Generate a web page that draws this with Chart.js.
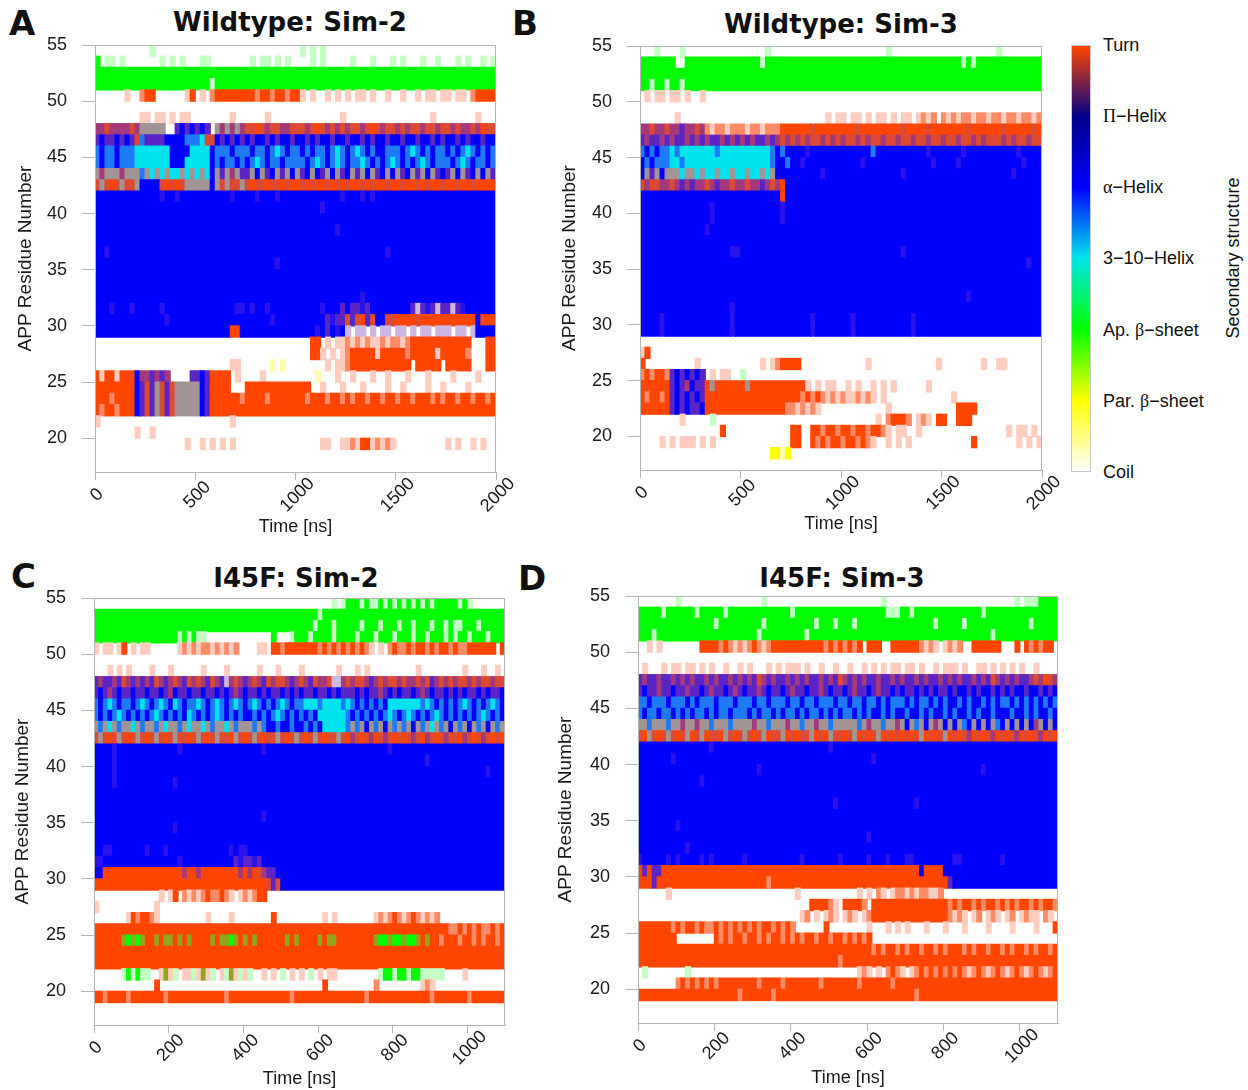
<!DOCTYPE html>
<html>
<head>
<meta charset="utf-8">
<script src="https://cdn.jsdelivr.net/npm/chart.js@4.4.1/dist/chart.umd.min.js"></script>
<style>
  body { margin: 0; background: #fff; width: 1248px; height: 1090px; position: relative; overflow: hidden;
         font-family: "Liberation Sans", Arial, sans-serif; color: #111; }
  canvas { position: absolute; }
  .letter { position: absolute; font: bold 34px/34px "DejaVu Sans", sans-serif; }
  .ptitle { position: absolute; width: 400px; text-align: center; font: bold 26px/30px "DejaVu Sans", sans-serif; }
  .cb { position: absolute; left: 1071px; top: 45px; width: 20px; height: 427px; box-sizing: border-box;
        border: 1px solid #c8c8c8;
        background: linear-gradient(to bottom, #ff4500 0%, #00008b 16.7%, #0000ff 33.3%, #00e6ea 50%, #00ff00 66.7%, #ffff00 83.3%, #ffffff 100%); }
  .cbl { position: absolute; left: 1103px; font-size: 18px; line-height: 22px; white-space: nowrap; }
  .gk { font-family: "Liberation Serif", "DejaVu Serif", serif; }
  .cbt { position: absolute; left: 1133px; top: 247px; width: 200px; text-align: center; font-size: 18px;
         line-height: 22px; transform: rotate(-90deg); }
</style>
</head>
<body>
<div class="letter" style="left:9px;top:6px">A</div>
<div class="letter" style="left:512px;top:6px">B</div>
<div class="letter" style="left:11px;top:559px">C</div>
<div class="letter" style="left:518px;top:561px">D</div>

<div class="ptitle" style="left:90px;top:7px">Wildtype: Sim-2</div>
<div class="ptitle" style="left:641px;top:9px">Wildtype: Sim-3</div>
<div class="ptitle" style="left:96px;top:563px">I45F: Sim-2</div>
<div class="ptitle" style="left:642px;top:563px">I45F: Sim-3</div>

<canvas id="chartA" width="520" height="545" style="left:0;top:0"></canvas>
<canvas id="chartB" width="520" height="545" style="left:545px;top:0"></canvas>
<canvas id="chartC" width="530" height="540" style="left:0;top:550px"></canvas>
<canvas id="chartD" width="530" height="540" style="left:545px;top:550px"></canvas>

<div class="cb"></div>
<div class="cbl" style="top:34px">Turn</div>
<div class="cbl" style="top:105px"><span class="gk">Π</span>−Helix</div>
<div class="cbl" style="top:176px"><span class="gk">α</span>−Helix</div>
<div class="cbl" style="top:247px">3−10−Helix</div>
<div class="cbl" style="top:319px">Ap. <span class="gk">β</span>−sheet</div>
<div class="cbl" style="top:390px">Par. <span class="gk">β</span>−sheet</div>
<div class="cbl" style="top:461px">Coil</div>
<div class="cbt">Secondary structure</div>

<script>
// ---- axes ----
const yTicks = [20, 25, 30, 35, 40, 45, 50, 55];
const xTicksLong = [0, 500, 1000, 1500, 2000];
const xTicksShort = [0, 200, 400, 600, 800, 1000];
const residueMin = 17;
const residueTop = 54;   // first row of every panel = residue band 54-55

// ---- structure code per time bin ----
// T turn, H alpha, G 3-10, E ap. sheet, B par. sheet, '.' coil
// lower case / extra letters = bins where several states flicker
const codeColors = {
  T: "#ff4500", t: "#ffcdbf", m: "#ff8a66", r: "#dc4a34", p: "#a3397a",
  v: "#5b25c6", h: "#2a12ea", H: "#0000ff", c: "#1f7af6", G: "#00e2ec",
  g: "#a29494", E: "#00ff00", e: "#c4ffc4", o: "#8fa51e", B: "#ffff00",
  y: "#ffffb4", q: "#cdb6e2"
};

const H80 = "HHHHHHHHHH HHHHHHHHHH HHHHHHHHHH HHHHHHHHHH HHHHHHHHHH HHHHHHHHHH HHHHHHHHHH HHHHHHHHHH";
const E80 = "EEEEEEEEEE EEEEEEEEEE EEEEEEEEEE EEEEEEEEEE EEEEEEEEEE EEEEEEEEEE EEEEEEEEEE EEEEEEEEEE";
const C80 = ".......... .......... .......... .......... .......... .......... .......... ..........";
const H88 = "HHHHHHHHHHH HHHHHHHHHHH HHHHHHHHHHH HHHHHHHHHHH HHHHHHHHHHH HHHHHHHHHHH HHHHHHHHHHH HHHHHHHHHHH";
const T88 = "TTTTTTTTTTT TTTTTTTTTTT TTTTTTTTTTT TTTTTTTTTTT TTTTTTTTTTT TTTTTTTTTTT TTTTTTTTTTT TTTTTTTTTTT";
const C88 = "........... ........... ........... ........... ........... ........... ........... ...........";

// Wildtype Sim-2, 0-2000 ns, 25 ns bins
const wtSim2 = [
  ".......... .e........ .......... .......... .e.e.e.... .......... .......... ..........",
  "E.ee.e.... ...e.e.e.. .ee....... .e.ee.e.e. ...e.e.... .e...e...e .e...e..e. ..e.e..e.e",
  E80,
  "EEEEEEEEEE EEEEEEEEEE EEEeEEEEEE EEEEEEEEEE EEEEEEEEEE EEEEEEEEEE EEEEEEEEEE EEEEEEEEEE",
  "......t..m TT......tT .t.mTTTTTT TTmTTmTTmT Tt.t..t.t. t.tt.t..t. .t..t.tt.t t.tt.mTTTT",
  C80,
  ".........t t.tt.t.tt. .......t.. ....t..... .........t .......... .......t.. ......t...",
  "pprpppprpg gggg..vHvH vHv.gpgpgp rrTrprrppr rrprTrprpr prrprTrprr prprrprrpr rprpprpTrr",
  "vHvvHvHvrc vvvvHHHHcc cGrrHvHvHv HvHHvHvHHv HHvHvHHvHH vHHvHvHHvH HvHHvHHvHv HHvHvHHvHH",
  "cHccHcccGG GGGGGHHHHG GGGHcccHcc cHccHcGcHc cHcHccHcGc HcGcHcHHcc cHcGcHcHcc HcHcGcHcHc",
  "cHccHcccGG GGGGGHHHGG GGGHcHccHc HcGcHccHcc ccHcGcHcGc HccGcHcHcG cHcHcGcHcc cHcGcHccHc",
  "gpgggpgggc gGgGgGGgGg GgGHgvgpgv vgHgvHgvgH gvHgHvgHgv HgvgHgvHgH gvHgvgHgvH vgHgvHgHgv",
  "rgrTrgrrgH HHHrTrTrgg gggHgrgrrg rTrrTrrTrT TrTrTTrTrT rTTrTrTTrT TrTTrTrTTr TTrTTrTTTT",
  "HHHHHHHHHH HHHhHHhHHH HHHHHHHhHH HHhHHHhHHH HHHHHHHHHh HHHhHhHHHH HHHHHHHHHH HHHHHHHHHH",
  "HHHHHHHHHH HHHHHHHHHH HHHHHHHHHH HHHHHHHHHH HHHHHhHHHH HHHHHHHHHH HHHHHHHHHH HHHHHHHHHH",
  H80,
  "HHHHHHHHHH HHHHHHHHHH HHHHHHHHHH HHHHHHHHHH HHHHHHHHhH HHHHHHHHHH HHHHHHHHHH HHHHHHHHHH",
  H80,
  "HHhHHHHHHH HHHHHHHHHH HHHHHHHHHH HHHHHHHHHH HHHHHHHHHH HHHHHHHHhH HHHHHHHHHH HHHHHHHHHH",
  "HHHHHHHHHH HHHHHHHHHH HHHHHHHHHH HHHHHHhHHH HHHHHHHHHH HHHHHHHHHH HHHHHHHHHH HHHHHHHHHH",
  H80,
  H80,
  "HHHHHHHHHH HHHHHHHHHH HHHHHHHHHH HHHHHHHHHH HHHHHHHHHH HHHhHHHHHH HHHHHHHHHH HHHHHHHHHH",
  "HHHhHHHhHH HHHhHHHHHH HHHHHHHHhh HhHHhHHHHH HHHHHhHHHv HvvhvHHHHH HHHvqvhvqv vqvhHHHHHH",
  "HHHHHHHHHH HHHHhHHHHH HHHHHHHHHH HHHHHhHHHH HHHHHHvhvv rvrTvrHHrr TTTTrTTTTT TTTTTTHTTT",
  "HHHHHHHHHH HHHHHHHHHH HHHHHHHTTH HHHHHHHHHH HHHHhHvHhH q.qq.q.qq. qq.q.qq.qq q.qq.qHHHH",
  ".......... .......... .......... .......... ...TT.t.tt mtmtmttmtm mtmTTTTTTT TTTTT...TT",
  ".......... .......... .......... .......... ...TTt.t.t mTTTTTtTTT TTmTTTTTtT TTTTm...TT",
  ".......... .......... .......tt. .....y.y.. ......t.tt mTTTTTTTTT TTT.TTTTT. TTTTT...TT",
  "TtTTtTTTHp pvpvp....v vHvTTTT.t. ...t...... ....y...t. .t...t..t. ..t...t... .t....t...",
  "TTTTTTTTHv rvgrvrgggg gHvTTTT... TTTTTTTTTT TTT..t...t ...t....t. .t....t..t ....t.....",
  "TTTmTTTTHv rvgrvrgggg gHvTTTTTTm TTTTmTTTTT TTmTTTmTTm TmTTmTTmTT mTTmTTTmTm TTmTTmTTmT",
  "TmTTmTTTHv rvgrvrgggg gHvTTTTTTT TTTTTTTTTT TTTTTTTTTT TTTTTTTTTT TTTTTTTTTT TTTTTTTTTT",
  "t......... .......... .......t.. .......... .......... .......... .......... ..........",
  "........t. .t........ .......... .......... .......... .......... .......... ..........",
  ".......... ........t. .t.t.t.t.. .......... .....tt..t tmtTTtmtmt .......... t.t..t.t..",
  C80,
  C80
];

// Wildtype Sim-3, 0-2000 ns, 25 ns bins
const wtSim3 = [
  "...e....e. .......... .....e.... .......... .........e .......... .......... .e........",
  "EEEEEEE..E EEEEEEEEEE EEEEeEEEEE EEEEEEEEEE EEEEEEEEEE EEEEEEEEEE EEEEeEeEEE EEEEEEEEEE",
  E80,
  "EEeEEeEEeE EEEEEEEEEE EEEEEEEEEE EEEEEEEEEE EEEEEEEEEE EEEEEEEEEE EEEEEEEEEE EEEEEEEEEE",
  ".t.tt.tt.t ..t....... .......... .......... .......... .......... .......... ..........",
  C80,
  ".......t.. .......... .......... .......t.t t.tt.t.tt. t.tt.tmtm. mtmtmmtmmt mmtmmtmmtm",
  "pprpprppvp prpmtmmtmm mtmmtmmmTT TTTTrTTTTT TTTrTTTTTT TTrTTTTrTT TTTTTrTTTT TTrTTTTTrT",
  "vpvvpvpvvp vpvpvvpvpv pvpvvpvprp rprprrprpr prrprprrpr rprrprrprr prrprrprpr rrprprrprr",
  "cHcHccGcGG GGGGGcGGGG GGGGGGcHcH HHHhHHHHHH HHHHHHcHHH HHHHHHHhHH HHHHhHHHHH HHHHHhHHHH",
  "HcHcccGGcG GGGGGGGGGG GGGGGGcHHc HHhHHHHHHH HHHHhHHHHH HHHHHHHHhH HHHhHHHHHH HHHHHHhHHH",
  "HgvgHgggGg gGgGGgGGgG GgGGgGgHHH HHHHHHhHHH HHHHHHHHHH HHhHHHHHHH HHHHHHHHHH HHHHhHHHHH",
  "rprrpprpvp vpprpvpprp prppvprpTH HHHHHHHHHH HHHHHHHHHH HHHHHHHHHH HHHHHHHHHH HHHHHHHHHH",
  "HHHHHHHHHH HHHHHHHHHH HHHHHHHHTH HHHHHHHHHH HHHHHHHHHH HHHHHHHHHH HHHHHHHHHH HHHHHHHHHH",
  "HHHHHHHHHH HHHHhHHHHH HHHHHHHHhH HHHHHHHHHH HHHHHHHHHH HHHHHHHHHH HHHHHHHHHH HHHHHHHHHH",
  "HHHHHHHHHH HHHHhHHHHH HHHHHHHHhH HHHHHHHHHH HHHHHHHHHH HHHHHHHHHH HHHHHHHHHH HHHHHHHHHH",
  "HHHHHHHHHH HHHhHHHHHH HHHHHHHHHH HHHHHHHHHH HHHHHHHHHH HHHHHHHHHH HHHHHHHHHH HHHHHHHHHH",
  H80,
  "HHHHHHHHHH HHHHHHHHhh HHHHHHHHHH HHHHHHHHHH HHHHHHHHHH HHhHHHHHHH HHHHHHHHHH HHHHHHHHHH",
  "HHHHHHHHHH HHHHHHHHHH HHHHHHHHHH HHHHHHHHHH HHHHHHHHHH HHHHHHHHHH HHHHHHHHHH HHHHHHHhHH",
  H80,
  H80,
  "HHHHHHHHHH HHHHHHHHHH HHHHHHHHHH HHHHHHHHHH HHHHHHHHHH HHHHHHHHHH HHHHHhHHHH HHHHHHHHHH",
  "HHHHHHHHHH HHHHHHHHhH HHHHHHHHHH HHHHHHHHHH HHHHHHHHHH HHHHHHHHHH HHHHHHHHHH HHHHHHHHHH",
  "HHHHhHHHHH HHHHHHHHhH HHHHHHHHHH HHHHhHHHHH HHhHHHHHHH HHHHhHHHHH HHHHHHHHHH HHHHHHHHHH",
  "HHHHhHHHHH HHHHHHHHhH HHHHHHHHHH HHHHhHHHHH HHhHHHHHHH HHHHhHHHHH HHHHHHHHHH HHHHHHHHHH",
  C80,
  "tT........ .......... .......... .......... .......... .......... .......... ..........",
  "T......... .t........ ....t.tmTT TT........ .....t.... .........t ........t. .tt.......",
  "mTmTTmvHvH vHv.t.tt.. e......... .......... .......... .......... .......... ..........",
  "TTTTTTvHvp HvvTgTTTTT TgTTTTTTTT TTTt.t.tt. .t.t..t.t. t......t.. .......... ..........",
  "TmTTmTvHvH vHvTTTTTTT TTTTTTTTTT TTmTmTmtmt mttmtmt.t. .......... ..t....... ..........",
  "TTTTTTvHvH vvHTTTTTTT TTTTTTTTTm mtmtmt.... .........t .......... ...TTTT... ..........",
  "........t. ....e..... .......... .......... .......t.m TTTm.tmt.T T..TTT.... ..........",
  ".......... ......T... .......... TT..TTmTTm TTmTTmTTmt .tt..t.... .......... ...t.tt.t.",
  "....t.t.tt t.t.t..... .......... TT..TmTmTT mTTmTmt..t .t.t...... ......T... .....t.t.t",
  ".......... .......... ......BByB .......... .......... .......... .......... ..........",
  C80
];

// I45F Sim-2, 0-1100 ns, 12.5 ns bins
const mutSim2 = [
  "........... ........... ........... ........... .......e.eE EEeEeeEeEeE eEeEeEeEEEE EeEe.......",
  "EEEEEEEEEEE EEEEEEEEEEE EEEEEEEEEEE EEEEEEEEEEE EEEEeEEEEEE EEEEEEEEEEE EEEEEEEEEEE EEEEEEEEEEE",
  "EEEEEEEEEEE EEEEEEEEEEE EEEEEEEEEEE EEEEEEEEEEE EEEeEEEeEEE EEeEEEeEEEe EEeEEEeEEeE eeEEEeEEEEE",
  "EEEEEEEEEEE EEEEEEEeEeE ee......... .....E...eE EEeEEEEeEEE EeEEEeEEEeE EEeEEeEEEeE eEEeEEEeEEE",
  "t.tt.tT.t.t t......tmtm tmmtmtmtm.. ..tt.TTmTTT TTTTmTmTmTm TmTmt.t.mTm mTmTTmTmTTm TmmTTTTTT.T",
  C88,
  "...t.t.t... .t...t..... .t....t.... ..t...t.... t.......t.. .t.t....... ...t....... ..t...t..t.",
  "vpvvpvrpvpv pvrpvprpvrp rpvrpvqprpv prpvrprrpvp rpvrpprqqpr prrpvprprrp rpprprvprpr prrprprrprr",
  "vHvpvHvvHvv HvvHvpHvvHv vHvvHvHvpvH vvHvHvvHvHv HvvHvvHvHvv vHvHvvpvHvH vvHvpvHvvHv HvHvvHvHvvH",
  "cHcGcHccHcG cHcGcHGcHcc GcHcGcHcGcH cGcHcHcGcHc cGGGcGGGGcG cHcHcHcHGGG GGGGcGcHcHc HcGcHcHcGcH",
  "cHcHcGcHcHc HcGcHcHcHGc HcHcGcHcHcH HcHcHcGcHcH cHcHGGGGGGc HcHcHcHcGcH cGcHcHcGcHc HcHcHcGcHcH",
  "gcgGgcggGgc ggcgGggcgGg gGgcggGgcgg gcgcHHcHHcH HcHcHGGGGGc gcgHgcgHgcg cgHgcgGgcgH gcgHgcgHgcg",
  "rgrTrgrTrgr TrgrTrgrrTr grTrgrrTgrT rgrTrrgrTrg rTrgrTrrgrT prTrpTrprTr TrprTprTrpr rTprTrprTrT",
  "HHHHhHHHHHH HHHHHHHhHHH HHHHHHHHHHH HHHhHHHHHHH HHHHHHHHHHH HHHHHHHHhHH HHHHHHHHHHH HHHHHHHHHHH",
  "HHHHhHHHHHH HHHHHHHHHHH HHHHHHHHHHH HHHHHHHHHHH HHHHHHHHHHH HHHHHHHHHHH HHHHHhHHHHH HHHHHHHHHHH",
  "HHHHhHHHHHH HHHHHHHHHHH HHHHHHHHHHH HHHHHHHHHHH HHHHHHHHHHH HHHHHHHHHHH HHHHHHHHHHH HHHHHHHhHHH",
  "HHHHhHHHHHH HHHHHHhHHHH HHHHHHHHHHH HHHHHHHHHHH HHHHHHHHHHH HHHHHHHHHHH HHHHHHHHHHH HHHHHHHHHHH",
  "HHHHHHHHHHH HHHHHHHHHHH HHHHHHHHHHH HHHHHHHHHHH HHHHHHHHHHH HHHHHHHHHHH HHHHHHHHHHH HHHHHHHHHHH",
  H88,
  "HHHHHHHHHHH HHHHHHHHHHH HHHHHHHHHHH HHHhHHHHHHH HHHHHHHHHHH HHHHHHHHHHH HHHHHHHHHHH HHHHHHHHHHH",
  "HHHHHHHHHHH HHHHHHhHHHH HHHHHHHHHHH HHHHHHHHHHH HHHHHHHHHHH HHHHHHHHHHH HHHHHHHHHHH HHHHHHHHHHH",
  H88,
  "HHhhHHHHHHH hHHHhHHHHHH HHHHHHHhHhh HHHHHHHHHHH HHHHHHHHHHH HHHHHHHHHHH HHHHHHHHHHH HHHHHHHHHHH",
  "hhHHHHHHHHH HHHHHHHhHHH HHHHHHHHvhv vhvHHHHHHHH HHHHHHHHHHH HHHHHHHHHHH HHHHHHHHHHH HHHHHHHHHHH",
  "HHTTTTTTTTT TTTTTTTTpTT pTTTTTTTTpT pTrpvvHHHHH HHHHHHHHHHH HHHHHHHHHHH HHHHHHHHHHH HHHHHHHHHHH",
  "TTTTTTTTTTT TTTTTTTTTTT TTTTTTTTTTT TTTTrvrHHHH HHHHHHHHHHH HHHHHHHHHHH HHHHHHHHHHH HHHHHHHHHHH",
  "........... ...t.tT.mtm tmTmmTmt.tm tmTT....... ........... ........... ........... ...........",
  "t.......... ..t........ ........... ........... ........... ........... ........... ...........",
  ".......tTmT Tmt........ ..t....t... .....T..... .....t.t... .....tmtmTm tmTmtmtm... ...........",
  "TTTTTTTTTTT TTTTTTTTTTT TTTTTTTTTTT TTTTTTTTTTT TTTTTTTTTTT TTTTTTTTTTT TTTTTTTTTTm mTmTmTmmTmT",
  "TTTTTToEoEo TToTooToToT TTToTooEoTo ToTTTTTToTo TTTToTooTTT TTTTToEEoEE oEEoToTTmTT TmTTmTmTTmT",
  T88,
  T88,
  "......eEeEe e..tote.tte tote.teotet e..t.t.e.t. t.e.t.tt... ......eEEeE EeEEeeeee.. ..t........",
  "........... ..T........ ........... ........... .....T..... .....m..... ....tmt.... ...........",
  "TTmTTTTmTTT TTTTmTTTTTT TTTTTTmTTTT TTTTTTTTTmT TTTTTTTTTTT TTTmTTTTTTT TTTTTTmTTTT TTTmTTTTTTT",
  C88,
  C88
];

// I45F Sim-3, 0-1100 ns, 12.5 ns bins
const mutSim3 = [
  "........e.. ........... ....e...... ........... .......e... ........... ........... ..e.eeeEEEE",
  "EEEEEeEEEEE EeEEEEEeEEE EEEEEEEEEEe EEEEEEEEEEE EEEEEEEEeee EEeEEEEEEEE EEEEEEeEEEE EEEEEEEEEEE",
  "EEEEEEEEEEE EEEEEeEEEEE EEEEeEEEEEE EEEEeEEEeEE EeEEEEEEEEE EEEEEEEeEEE EEeEEEEEEEE EEEEEeEEEEE",
  "EEEeEEEEEEE EEEEEEEEEEE EEEeEEEEEEE EEeEEEEEEEE EEEEEEEEEEE EEEEEEEEEEE EEEEEEEEeEE EEEEEEEEEEE",
  "..t.t...... ..TTTTmTmtm tmTmtmTTTTT TTTTTTmTmTm TmT.TTT..TT TTTTmtmt.tm tm..TTTTTT. ..T.TmTmTT.",
  C88,
  ".t...t.tt.t t.t.t..t..t .t...t.t.tt t.t..t..t.. t..t.t.t.tt .tt.t..t.tt t.t..tt.t.t .t.t..t....",
  "vpvvpvvpvpv pvvpvpvvpvp vpvrpvpvvpv pvpvvpvpvrp vpvpvvpvvpv pvvpvpvvpvp vpvvpvpvrpv pvpvvprpTrp",
  "vHvvpvvHvvp vvHvpvvHvpv HvvpvHvvHvp vvHvvpvHvvH vpvvHvpvvHv HvvHvHvHvvH vHHvHvHHvHv HvHHvHHvHvH",
  "ccHcccHcccH cHcccHcccHc ccHccHcccHc cHccHcccHcc HccHccHcHcc cHcHccHcHcH HcHcHHcHcHc cHcHcHcHcHc",
  "cHccHccHcHc HccHcHccHcc cHcHccHcHcc HcHccHcHcHc cHcHcHHcHcH HcHHcHcHHcH cHHcHcHHcHH HcHHcHcHHcH",
  "ggcgggcggpg gpggcgggcgg ggpggcgggpg gcggpggcggg ggcgpggcggp gHgcgHgpgHg HgcHgHgHgcH gHgHgHpgHgH",
  "rTgrTrgrTrg TrgTrrTgrTr grTrgTrrgTr TrrgTrTgrrT rgTrTrgTrTr TrTrgTrTrgT rTrpTrTrpTr TrpTrTrpTrT",
  "HHHHHHHHHHH HHHHhHHHHHH HHHHHHHHHHH HHHHHHHhHHH HHHHHHHHHHH HHHHHHHHHHH HHHHHHHHHHH HHHHHHHHHHH",
  "HHHHHHHhHHH HHHHHHHHHHH HHHHHHHHHHH HHHHHHHHHHH HHHHHhHHHHH HHHHHHHHHHH HHHHHHHHHHH HHHHHHHHHHH",
  "HHHHHHHHHHH HHHHHHHHHHH HHHhHHHHHHH HHHHHHHHHHH HHHHHHHHHHH HHHHHHHHHHH HHHHHHhHHHH HHHHHHHHHHH",
  "HHHHHHHHHHH HHhHHHHHHHH HHHHHHHHHHH HHHHHHHHHHH HHHHHHHHHHH HHHHHHHHHHH HHHHHHHHHHH HHHHHHHHHHH",
  H88,
  "HHHHHHHHHHH HHHHHHHHHHH HHHHHHHHHHH HHHHHHHHhHH HHHHHHHHHHH HHHhHHHHHHH HHHHHHHHHHH HHHHHHHHHHH",
  H88,
  "HHHHHHHHhHH HHHHHHHHHHH HHHHHHHHHHH HHHHHHHHHHH HHHHHHHHHHH HHHHHHHHHHH HHHHHHHHHHH HHHHHHHHHHH",
  "HHHHHHHHHHH HHHHHHHHHHH HHHHHHHHHHH HHHHHHHHHHH HHHHhHHHHHH HHHHHHHHHHH HHHHHHHHHHH HHHHHHHHHHH",
  "HHHHHHHHHHh HHHHHHHHHHH HHHHHHHHHHH HHHHHHHHHHH HHHHHHHHHHH HHHHHHHHHHH HHHHHHHHHHH HHHHHHHHHHH",
  "hHHHHHhHhHH HHhHhHHHHHH hHHHHHHHHHH HhHHHHHHHhH HHHHhHHHhHH HhhHHHHHHHH hhHHHHHHHHh HHHHHHHHHHH",
  "TvTvvTTTTTT TTTTTTTTTTT TTTTTTTTTTT TTTTTTTTTTT TTTTTTTTTTT TTTTHTTTTHH HHHHHHHHHHH HHHHHHHHHHH",
  "TTTvTTTTTTT TTTTTTTTTTT TTTTTmTTTTT TTTTTTTTTTT TTTTTTTTTTT TTTTTTTTTTv HHHHHHHHHHH HHHHHHHHHHH",
  "......t.... ........... ........... t.......... ..t.t.mt.tm mtmtmmttm.. ........... ...........",
  "........... ........... ........... ...TTTTmt.T TTTm.TTTTTT TTTTTTTTTTm TmTTmTmTTmT mTmTTmTmTTm",
  "........... ........... ........... .tm.t.tmt.t mt.tmTTTTTT TTTTTTTTTTm tmt.tm.tmt. tm.tmtt.mt.",
  "TTTTTTTmTmT TmTmmTmTmTm TmTmTTmTmTm ......T.... ....t...t.t .t...t...t. ..t....t... .t....t...T",
  "TTTTTTTT... .....TmTmTT mTTmTmTTmTm TmTTmTTmTTm TmTmT...... ........... ........... ...........",
  "TTTTTTTTTTT TTTTTTTTTTT TTTTTTTTTTT TTTTTTTTTTT TTTTTmTmTTm TmTTmTTmTmT TTmTmTTmTTm TmTTmTmTTmT",
  "TTTTTTTTTTT TTTTTTTTTTT TTTTTTTTTTT TTTTTTTTTmT TTTTTTTTTTT TTTTTTTTTTT TTTTTTTTTTT TTTTTTTTTTT",
  ".e........e ........... ........... ........... ..tmt.t.mTm t.tmTmTmTmT mTmtmTmtmTm tmTmtmTmtmT",
  "........mTm TmTmTmTTTTT TTTmTTTTmTT TTTTTmTTTTT TTmTTTTTTmT TTTTTTTTTTT TTTTTTTTTTT TTTTTTTTTTT",
  "TTTTTTTTTTT TTTTTTTTTTm TTTTTTmTTTT TTTTTTTTTTT TTTTTTTTTTT TTTmTTTTTTT TTTTTTTTTTT TTTTTTTTTTT",
  C88,
  C88
];

// ---- drawing ----
Chart.defaults.font.family = '"Liberation Sans", Arial, sans-serif';
Chart.defaults.color = "#1a1a1a";
const frameGrey = "#b4b4b4";

const framePlugin = {
  id: "frame",
  afterDatasetsDraw(chart) {
    const { ctx, chartArea: a } = chart;
    ctx.save();
    ctx.strokeStyle = frameGrey;
    ctx.lineWidth = 1;
    ctx.strokeRect(Math.round(a.left) + 0.5, Math.round(a.top) + 0.5, Math.round(a.right - a.left) - 1, Math.round(a.bottom - a.top));
    ctx.restore();
  },
  afterDraw(chart) {
    // centred, 45° rotated time labels
    const { ctx, chartArea: a } = chart;
    const xs = chart.scales.x;
    ctx.save();
    ctx.font = '18px "Liberation Sans", Arial, sans-serif';
    ctx.fillStyle = "#1a1a1a";
    ctx.textAlign = "center";
    ctx.textBaseline = "middle";
    xs.ticks.forEach((t) => {
      ctx.save();
      ctx.translate(xs.getPixelForValue(t.value) + 2, a.bottom + 23);
      ctx.rotate(-Math.PI / 4);
      ctx.fillText(String(t.value), 0, 0);
      ctx.restore();
    });
    ctx.restore();
  }
};

function makePanel(id, rows, tMax, xTicks, geo) {
  const bins = rows[0].replace(/ /g, "").length;
  const dt = tMax / bins;
  const bars = [];
  const colors = [];
  rows.forEach((row, k) => {
    const s = row.replace(/ /g, "");
    const y = residueTop - k + 0.5;
    let i = 0;
    while (i < s.length) {
      let j = i;
      while (j < s.length && s[j] === s[i]) j++;
      if (s[i] !== ".") {
        bars.push({ x: [i * dt, j * dt], y });
        colors.push(codeColors[s[i]]);
      }
      i = j;
    }
  });

  new Chart(document.getElementById(id), {
    type: "bar",
    data: {
      datasets: [{
        data: bars,
        backgroundColor: colors,
        borderWidth: 0,
        inflateAmount: 0.6,
        barPercentage: 1,
        categoryPercentage: 1
      }]
    },
    options: {
      indexAxis: "y",
      responsive: false,
      animation: false,
      events: [],
      layout: { padding: geo.pad },
      plugins: { legend: { display: false }, tooltip: { enabled: false } },
      scales: {
        x: {
          type: "linear",
          min: 0,
          max: tMax,
          afterBuildTicks: (s) => { s.ticks = xTicks.map((v) => ({ value: v })); },
          afterFit: (s) => { s.height = geo.xh; },
          grid: { drawOnChartArea: false, drawTicks: true, tickLength: 8, color: frameGrey },
          border: { color: frameGrey },
          ticks: { display: false },
          title: { display: true, text: "Time [ns]", font: { size: 18 }, color: "#1a1a1a", padding: { top: 0, bottom: geo.xtPad } }
        },
        y: {
          type: "linear",
          min: residueMin,
          max: 55,
          offset: false,
          afterBuildTicks: (s) => { s.ticks = yTicks.map((v) => ({ value: v })); },
          afterFit: (s) => { s.width = geo.yw; },
          grid: { drawOnChartArea: false, drawTicks: true, tickLength: 13, offset: false, color: frameGrey },
          border: { color: frameGrey },
          ticks: { font: { size: 18 }, color: "#1a1a1a", padding: 15 },
          title: { display: true, text: "APP Residue Number", font: { size: 19 }, color: "#1a1a1a", padding: { top: geo.ytPad, bottom: 0 } }
        }
      }
    },
    plugins: [framePlugin]
  });
}

makePanel("chartA", wtSim2, 2000, xTicksLong, { pad: { left: 0, top: 45, right: 24, bottom: 0 }, yw: 95, xh: 73, xtPad: 7, ytPad: 14 });
makePanel("chartB", wtSim3, 2000, xTicksLong, { pad: { left: 0, top: 46, right: 23, bottom: 0 }, yw: 95, xh: 75, xtPad: 10, ytPad: 13 });
makePanel("chartC", mutSim2, 1100, xTicksShort, { pad: { left: 0, top: 48, right: 25, bottom: 0 }, yw: 94, xh: 65, xtPad: 0, ytPad: 11 });
makePanel("chartD", mutSim3, 1100, xTicksShort, { pad: { left: 0, top: 46, right: 17, bottom: 0 }, yw: 93, xh: 67, xtPad: 1, ytPad: 9 });
</script>
</body>
</html>
